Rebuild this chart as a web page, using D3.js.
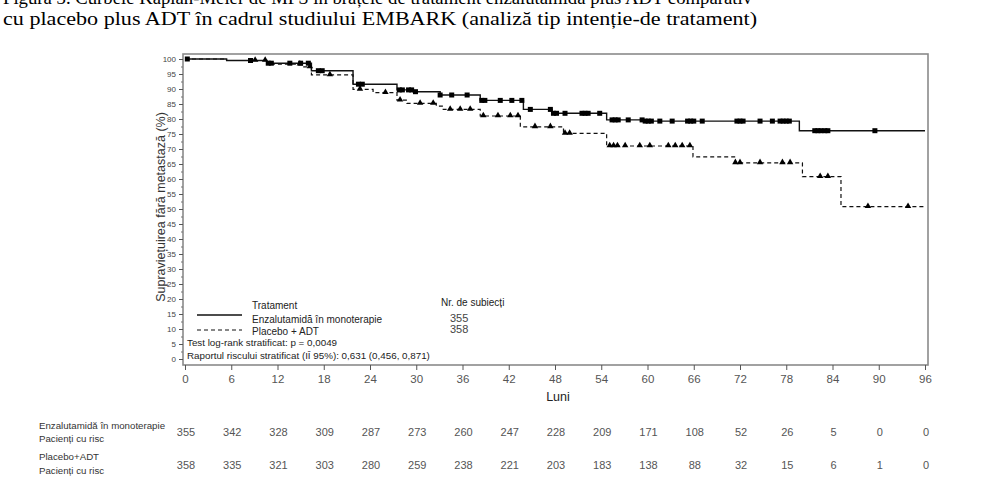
<!DOCTYPE html>
<html>
<head>
<meta charset="utf-8">
<script src="https://cdn.jsdelivr.net/npm/d3@7"></script>
<style>
  body { margin: 0; background: #fff; }
  svg { display: block; }
  .cap { font-family: "Liberation Serif", "Times New Roman", serif; font-size: 19px; fill: #000; }
  .sans { font-family: "Liberation Sans", Arial, sans-serif; }
  .narrow { font-family: "Liberation Sans Narrow", "Liberation Sans", Arial, sans-serif; }
</style>
</head>
<body>
<div id="chart"></div>
<script>
// tick labels
const monthTicks = [0, 6, 12, 18, 24, 30, 36, 42, 48, 54, 60, 66, 72, 78, 84, 90, 96];
const pctTicks = [0, 5, 10, 15, 20, 25, 30, 35, 40, 45, 50, 55, 60, 65, 70, 75, 80, 85, 90, 95, 100];

// Enzalutamida in monoterapie - step times (luni) and survival (%)
const enzaTime = [0, 5.4, 10.6, 16.4, 21.8, 27.5, 29.6, 33.1, 38.3, 43.9, 47.6, 54.7, 59.5, 79.7];
const enzaSurv = [100, 99.5, 98.6, 96.1, 91.6, 89.7, 89.1, 88.0, 86.2, 83.2, 81.9, 79.7, 79.3, 76.1];
const enzaCens = [0.3, 8.5, 10.8, 11.2, 13.6, 15.0, 16.0, 17.3, 17.8, 22.5, 23.0, 27.8, 28.2, 29.0, 29.4, 29.9,
  33.1, 34.6, 36.6, 38.5, 38.9, 40.9, 42.4, 43.7, 44.8, 47.4, 47.8, 48.2, 49.3, 51.5, 51.9, 52.3, 53.8,
  55.4, 55.8, 56.2, 57.5, 59.3, 59.7, 60.1, 60.5, 61.6, 63.2, 65.2, 65.6, 66.0, 67.1, 71.6, 72.0, 72.4,
  74.6, 76.2, 77.2, 77.6, 78.0, 78.4, 81.7, 82.1, 82.5, 83.0, 83.4, 89.5];
const enzaRisk = [355, 342, 328, 309, 287, 273, 260, 247, 228, 209, 171, 108, 52, 26, 5, 0, 0];

// Placebo + ADT
const pboTime = [0, 5.4, 10.6, 15.3, 16.4, 21.8, 24.4, 27.5, 28.8, 32.6, 33.5, 38.3, 43.5, 49.1, 54.7, 65.9, 71.4, 80.1, 85.1];
const pboSurv = [100, 99.5, 98.3, 97.4, 94.7, 89.9, 88.8, 86.3, 85.2, 84.3, 83.2, 81.0, 77.4, 75.2, 71.0, 67.4, 65.4, 60.8, 50.8];
const pboCens = [9.1, 10.4, 14.9, 16.2, 18.8, 22.7, 26.0, 27.9, 30.5, 32.2, 34.4, 35.7, 37.0, 38.7, 40.6,
  42.2, 43.2, 45.4, 47.4, 49.3, 49.9, 55.1, 55.6, 56.1, 57.1, 59.0, 60.3, 62.7, 63.6, 64.5, 65.5,
  71.4, 72.0, 74.6, 77.5, 78.5, 82.4, 83.4, 88.6, 93.8];
const pboRisk = [358, 335, 321, 303, 280, 259, 238, 221, 203, 183, 138, 88, 32, 15, 6, 1, 0];

const W = 984, H = 502;
const svg = d3.select("#chart").append("svg").attr("width", W).attr("height", H);

// caption (first line is cut at the top edge, like the scanned page)
svg.append("text").attr("class", "cap").attr("x", 3).attr("y", 4)
  .attr("textLength", 749).attr("lengthAdjust", "spacingAndGlyphs")
  .text("Figura 3. Curbele Kaplan-Meier de MFS în brațele de tratament enzalutamidă plus ADT comparativ");
svg.append("text").attr("class", "cap").attr("x", 3).attr("y", 25)
  .attr("textLength", 754).attr("lengthAdjust", "spacingAndGlyphs")
  .text("cu placebo plus ADT în cadrul studiului EMBARK (analiză tip intenție-de tratament)");

const x = d3.scaleLinear().domain([0, 96]).range([185, 925]);
const y = d3.scaleLinear().domain([0, 100]).range([359, 59]);

// frame
svg.append("rect").attr("x", 183).attr("y", 54).attr("width", 928 - 183).attr("height", 365 - 54)
  .attr("fill", "none").attr("stroke", "#8a8a8a").attr("stroke-width", 1.6);

// y axis
const yAxis = svg.append("g").attr("transform", "translate(183,0)")
  .call(d3.axisLeft(y).tickValues(pctTicks).tickSize(4).tickPadding(3));
yAxis.select(".domain").remove();
yAxis.selectAll("line").attr("stroke", "#555");
yAxis.selectAll("text").attr("class", "narrow").attr("font-size", 8).attr("fill", "#444");
svg.append("g").attr("transform", "translate(183,0)")
  .call(d3.axisLeft(y).tickValues(d3.range(2.5, 100, 5)).tickSize(2).tickFormat(""))
  .call(g => g.select(".domain").remove())
  .selectAll("line").attr("stroke", "#777");

// x axis
const xAxis = svg.append("g").attr("transform", "translate(0,365)")
  .call(d3.axisBottom(x).tickValues(monthTicks).tickSize(5).tickPadding(5));
xAxis.select(".domain").remove();
xAxis.selectAll("line").attr("stroke", "#555");
xAxis.selectAll("text").attr("class", "narrow").attr("font-size", 11.5).attr("fill", "#555");

svg.append("text").attr("class", "sans").attr("x", 558).attr("y", 401)
  .attr("text-anchor", "middle").attr("font-size", 12.5).attr("fill", "#222").text("Luni");

svg.append("text").attr("class", "sans")
  .attr("transform", "translate(165,207) rotate(-90)")
  .attr("text-anchor", "middle").attr("font-size", 12.5).attr("fill", "#333")
  .text("Supraviețuirea fără metastază (%)");

// curves
function stepPts(t, s) {
  const pts = t.map((d, i) => [d, s[i]]);
  pts.push([96, s[s.length - 1]]);
  return pts;
}
function survAt(t, s, v) {
  return s[Math.max(0, d3.bisectRight(t, v) - 1)];
}
const line = d3.line().x(d => x(d[0])).y(d => y(d[1])).curve(d3.curveStepAfter);

svg.append("path").datum(stepPts(pboTime, pboSurv)).attr("d", line)
  .attr("fill", "none").attr("stroke", "#111").attr("stroke-width", 1.2).attr("stroke-dasharray", "4,3");
svg.append("path").datum(stepPts(enzaTime, enzaSurv)).attr("d", line)
  .attr("fill", "none").attr("stroke", "#111").attr("stroke-width", 1.4);

svg.append("g").selectAll("rect").data(enzaCens).join("rect")
  .attr("x", d => x(d) - 2.5).attr("y", d => y(survAt(enzaTime, enzaSurv, d)) - 2.5)
  .attr("width", 5).attr("height", 5).attr("fill", "#000");

const tri = d3.symbol().type(d3.symbolTriangle).size(18);
svg.append("g").selectAll("path").data(pboCens).join("path")
  .attr("d", tri)
  .attr("transform", d => `translate(${x(d)},${y(survAt(pboTime, pboSurv, d)) - 0.5})`)
  .attr("fill", "#000");

// legend
const leg = svg.append("g").attr("class", "sans").attr("fill", "#222");
leg.append("text").attr("x", 252).attr("y", 309).attr("font-size", 10).text("Tratament");
leg.append("line").attr("x1", 197).attr("x2", 242).attr("y1", 315).attr("y2", 315)
  .attr("stroke", "#111").attr("stroke-width", 1.4);
leg.append("text").attr("x", 252).attr("y", 323).attr("font-size", 10).text("Enzalutamidă în monoterapie");
leg.append("line").attr("x1", 197).attr("x2", 242).attr("y1", 330).attr("y2", 330)
  .attr("stroke", "#111").attr("stroke-width", 1.2).attr("stroke-dasharray", "4,3");
leg.append("text").attr("x", 252).attr("y", 335).attr("font-size", 10).text("Placebo + ADT");
leg.append("text").attr("x", 187).attr("y", 346).attr("font-size", 9.8).text("Test log-rank stratificat: p = 0,0049");
leg.append("text").attr("x", 187).attr("y", 359).attr("font-size", 9.8).text("Raportul riscului stratificat (IÎ 95%): 0,631 (0,456, 0,871)");
leg.append("text").attr("x", 441).attr("y", 306).attr("font-size", 10).text("Nr. de subiecți");
leg.append("text").attr("x", 450).attr("y", 322).attr("font-size", 11).attr("fill", "#444").text(enzaRisk[0]);
leg.append("text").attr("x", 450).attr("y", 333).attr("font-size", 11).attr("fill", "#444").text(pboRisk[0]);

// numbers at risk
const risk = svg.append("g").attr("class", "sans");
risk.append("text").attr("x", 39).attr("y", 429).attr("font-size", 9.7).attr("fill", "#333").text("Enzalutamidă în monoterapie");
risk.append("text").attr("x", 39).attr("y", 442).attr("font-size", 9.7).attr("fill", "#333").text("Pacienți cu risc");
risk.append("text").attr("x", 39).attr("y", 460).attr("font-size", 9.7).attr("fill", "#333").text("Placebo+ADT");
risk.append("text").attr("x", 39).attr("y", 474).attr("font-size", 9.7).attr("fill", "#333").text("Pacienți cu risc");
risk.selectAll(".r1").data(enzaRisk).join("text").attr("class", "narrow r1")
  .attr("x", (d, i) => x(monthTicks[i]) + 1).attr("y", 436).attr("text-anchor", "middle")
  .attr("font-size", 11).attr("fill", "#555").text(d => d);
risk.selectAll(".r2").data(pboRisk).join("text").attr("class", "narrow r2")
  .attr("x", (d, i) => x(monthTicks[i]) + 1).attr("y", 469).attr("text-anchor", "middle")
  .attr("font-size", 11).attr("fill", "#555").text(d => d);
</script>
</body>
</html>
